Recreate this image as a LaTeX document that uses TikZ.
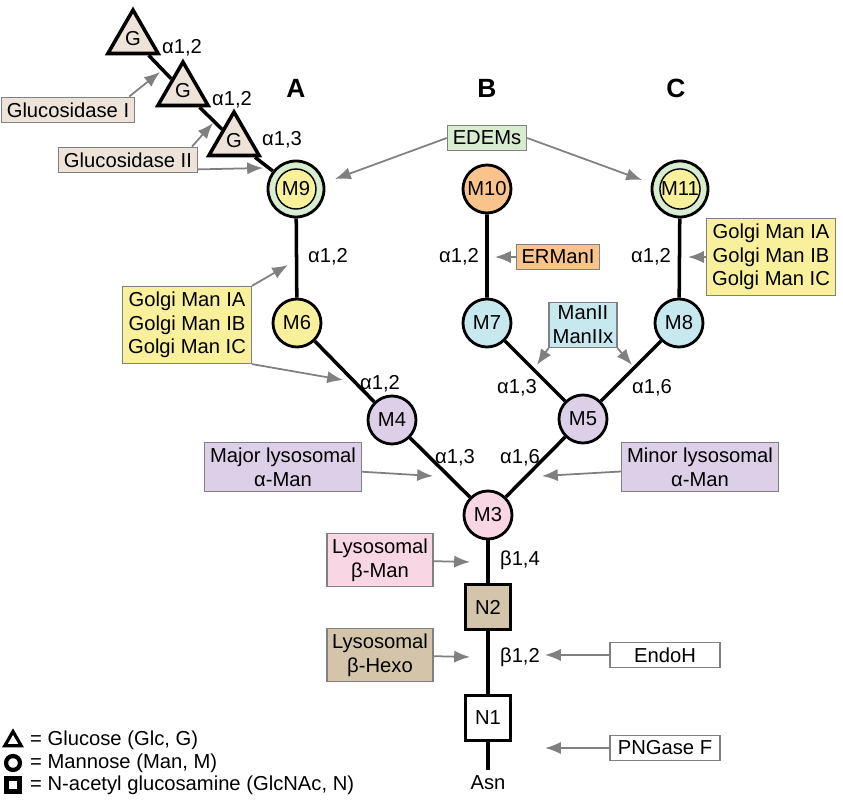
\documentclass[tikz,border=0pt]{standalone}
\usepackage{fontspec}
\setmainfont{Liberation Sans}
\usetikzlibrary{shapes.geometric,arrows.meta}
\definecolor{glc}{HTML}{EDE3D8}
\definecolor{edem}{HTML}{D8ECD0}
\definecolor{yel}{HTML}{F8F09A}
\definecolor{ora}{HTML}{F8C48C}
\definecolor{blu}{HTML}{C8E8F0}
\definecolor{lav}{HTML}{DCD0E8}
\definecolor{pnk}{HTML}{F9D6E3}
\definecolor{tan}{HTML}{D4C4AA}
\tikzset{
  sug/.style={circle,draw,line width=1.6pt,minimum size=48\px,inner sep=0pt},
  ring/.style={circle,draw,line width=1.6pt,fill=edem,minimum size=56\px,inner sep=0pt},
  glu/.style={regular polygon,regular polygon sides=3,draw,line width=2pt,fill=glc,minimum size=58\px,inner sep=0pt},
  nag/.style={rectangle,draw,line width=2pt,minimum size=45\px,inner sep=0pt},
  enz/.style={rectangle,draw=gray,line width=0.8pt,align=center,inner sep=3pt},
  lnk/.style={line width=2pt},
  cut/.style={-{Latex[length=9pt,width=7pt]},gray,line width=1pt},
  bond/.style={inner sep=0pt},
}
\newcommand\px{*0.02cm}
\begin{document}
\begin{tikzpicture}[x=0.02cm,y=-0.02cm,font=\fontsize{11.5}{13.5}\selectfont]
\useasboundingbox (0,0) rectangle (843,800);
% glucoses
\node[glu] (g1) at (133,39) {G};
\node[glu] (g2) at (183,91) {G};
\node[glu] (g3) at (234,141) {G};
% mannoses
\node[ring] (m9r) at (296,189) {};
\node[ring] (m11r) at (680,189) {};
\node[sug,fill=yel,line width=0.8pt,minimum size=40\px] (m9) at (296,189) {M9};
\node[sug,fill=ora] (m10) at (487,189) {M10};
\node[sug,fill=yel,line width=0.8pt,minimum size=40\px] (m11) at (680,189) {M11};
\node[sug,fill=yel] (m6) at (297,323) {M6};
\node[sug,fill=blu] (m7) at (487,323) {M7};
\node[sug,fill=blu] (m8) at (679,323) {M8};
\node[sug,fill=lav] (m4) at (392,420) {M4};
\node[sug,fill=lav] (m5) at (583,419) {M5};
\node[sug,fill=pnk] (m3) at (488,515) {M3};
\node[nag,fill=tan] (n2) at (488,607) {N2};
\node[nag,fill=white] (n1) at (488,718) {N1};
\node (asn) at (488,783) {Asn};
% bonds
\draw[lnk] (g1) -- (g2) -- (g3) -- (m9r);
\draw[lnk] (m9r) -- (m6) -- (m4) -- (m3);
\draw[lnk] (m10) -- (m7) -- (m5) -- (m3);
\draw[lnk] (m11r) -- (m8) -- (m5);
\draw[lnk] (m3) -- (n2) -- (n1) -- (asn);
% branch letters
\node[font=\fontsize{15}{17}\selectfont\bfseries] (la) at (296,88) {A};
\node[font=\fontsize{15}{17}\selectfont\bfseries] (lb) at (487,88) {B};
\node[font=\fontsize{15}{17}\selectfont\bfseries] (lc) at (676,88) {C};
% linkages
\node[bond] (b1) at (182,48) {α1,2};
\node[bond] (b2) at (232,100) {α1,2};
\node[bond] (b3) at (282,140) {α1,3};
\node[bond] (b4) at (328,257) {α1,2};
\node[bond] (b5) at (459,257) {α1,2};
\node[bond] (b6) at (651,257) {α1,2};
\node[bond] (b7) at (380,384) {α1,2};
\node[bond] (b8) at (455,458) {α1,3};
\node[bond] (b9) at (520,458) {α1,6};
\node[bond] (b10) at (517,388) {α1,3};
\node[bond] (b11) at (652,388) {α1,6};
\node[bond] (b12) at (520,560) {β1,4};
\node[bond] (b13) at (520,657) {β1,2};
% enzymes
\node[enz,fill=glc] (gI) at (68,110) {Glucosidase I};
\node[enz,fill=glc] (gII) at (128,160) {Glucosidase II};
\node[enz,fill=edem] (edem) at (487,138) {EDEMs};
\node[enz,fill=ora] (erman) at (558,257) {ERManI};
\node[enz,fill=yel] (golr) at (771,257) {Golgi Man IA\\Golgi Man IB\\Golgi Man IC};
\node[enz,fill=yel] (goll) at (187,325) {Golgi Man IA\\Golgi Man IB\\Golgi Man IC};
\node[enz,fill=blu,inner sep=2pt] (man2) at (583,325) {ManII\\ManIIx};
\node[enz,fill=lav] (major) at (283,467) {Major lysosomal\\α-Man};
\node[enz,fill=lav] (minor) at (700,467) {Minor lysosomal\\α-Man};
\node[enz,fill=pnk] (bman) at (380,560) {Lysosomal\\β-Man};
\node[enz,fill=tan] (bhex) at (380,655) {Lysosomal\\β-Hexo};
\node[enz,fill=white,minimum width=110\px] (endo) at (665,655) {EndoH};
\node[enz,fill=white,minimum width=110\px] (png) at (665,748) {PNGase F};
% cleavage arrows
\coordinate (t1) at (160,72);
\coordinate (t2) at (213,123);
\coordinate (t3) at (263,168);
\coordinate (t4) at (335,179);
\coordinate (t5) at (642,180);
\coordinate (t6) at (495,257);
\coordinate (t7) at (688,257);
\coordinate (t8) at (288,265);
\coordinate (t9) at (343,380);
\coordinate (t10) at (537,365);
\coordinate (t11) at (632,365);
\coordinate (t12) at (433,476);
\coordinate (t13) at (542,476);
\coordinate (t14) at (470,562);
\coordinate (t15) at (470,657);
\coordinate (t16) at (545,655);
\coordinate (t17) at (545,748);
\draw[cut] ([xshift=-6\px]gI.north east) -- (t1);
\draw[cut] ([xshift=-6\px]gII.north east) -- (t2);
\draw[cut] ([yshift=4\px]gII.south east) -- (t3);
\draw[cut] (edem.west) -- (t4);
\draw[cut] (edem.east) -- (t5);
\draw[cut] (erman) -- (t6);
\draw[cut] (golr) -- (t7);
\draw[cut] (goll.north east) -- (t8);
\draw[cut] (goll.south east) -- (t9);
\draw[cut] (man2.south west) -- (t10);
\draw[cut] (man2.south east) -- (t11);
\draw[cut] (major) -- (t12);
\draw[cut] (minor) -- (t13);
\draw[cut] (bman) -- (t14);
\draw[cut] (bhex) -- (t15);
\draw[cut] (endo) -- (t16);
\draw[cut] (png) -- (t17);
% legend
\node[regular polygon,regular polygon sides=3,draw,line width=1.8pt,minimum size=19\px,inner sep=0pt] (kg) at (13,741) {};
\node[circle,draw,line width=2.4pt,minimum size=14\px,inner sep=0pt] (km) at (13,763) {};
\node[rectangle,draw,line width=2.4pt,minimum size=13\px,inner sep=0pt] (kn) at (13,785) {};
\node[anchor=west] (tg) at (24,740) {= Glucose (Glc, G)};
\node[anchor=west] (tm) at (24,763) {= Mannose (Man, M)};
\node[anchor=west] (tn) at (24,785) {= N-acetyl glucosamine (GlcNAc, N)};
\end{tikzpicture}
\end{document}
